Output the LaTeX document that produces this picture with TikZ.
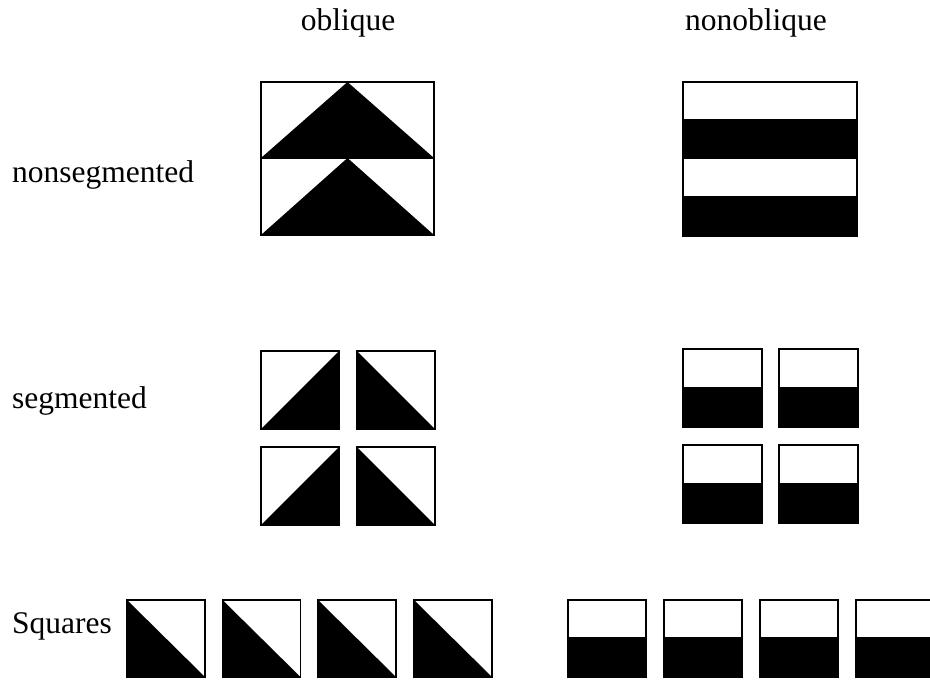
\documentclass[tikz,border=0pt]{standalone}
\usepackage{fontspec}
\setmainfont{Liberation Serif}
\begin{document}
\begin{tikzpicture}[x=1pt,y=-1pt,
  lbl/.style={inner sep=0pt,font=\fontsize{31.5}{36}\selectfont},
  frame/.style={draw=black,line width=1.3pt},
  blk/.style={fill=black}]
\useasboundingbox (0,0) rectangle (930,681);
% labels
\node[lbl,anchor=base] (hob) at (348,30) {oblique};
\node[lbl,anchor=base] (hnob) at (756,30) {nonoblique};
\node[lbl,anchor=base west] (lns) at (12,182) {nonsegmented};
\node[lbl,anchor=base west] (lsg) at (12,408) {segmented};
\node[lbl,anchor=base west] (lsq) at (12,633) {Squares};
% oblique nonsegmented
\fill[blk] (261,158) -- (347.5,82) -- (434,158) -- cycle;
\fill[blk] (261,235) -- (347.5,158) -- (434,235) -- cycle;
\draw[frame] (261,82) rectangle (434,235);
\draw[frame] (261,158) -- (434,158);
% nonoblique nonsegmented
\fill[blk] (683,119) rectangle (857,159);
\fill[blk] (683,196) rectangle (857,236);
\draw[frame] (683,82) rectangle (857,236);
% segmented oblique
\foreach \y in {351,447}{
  \fill[blk] (261,\y+78) -- (339,\y) -- (339,\y+78) -- cycle;
  \draw[frame] (261,\y) rectangle (339,\y+78);
  \fill[blk] (357,\y) -- (357,\y+78) -- (435,\y+78) -- cycle;
  \draw[frame] (357,\y) rectangle (435,\y+78);
}
% segmented nonoblique
\foreach \y in {349,445}{
  \foreach \x in {683,779}{
    \fill[blk] (\x,\y+38) rectangle (\x+79,\y+78);
    \draw[frame] (\x,\y) rectangle (\x+79,\y+78);
  }
}
% squares row oblique
\foreach \x in {127,222.5,318,414}{
  \fill[blk] (\x,600) -- (\x,677) -- (\x+78,677) -- cycle;
  \draw[frame] (\x,600) rectangle (\x+78,677);
}
% squares row nonoblique
\foreach \x in {568,664,760,856}{
  \fill[blk] (\x,637) rectangle (\x+78,677);
  \draw[frame] (\x,600) rectangle (\x+78,677);
}
\end{tikzpicture}
\end{document}
